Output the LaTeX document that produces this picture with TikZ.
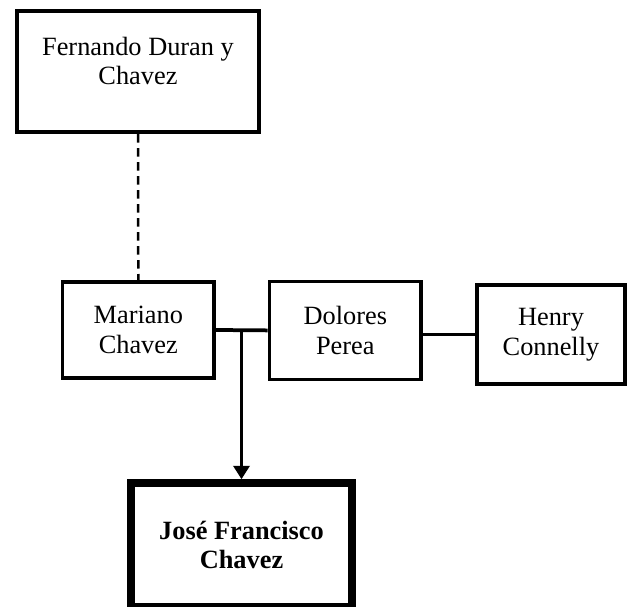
\documentclass[tikz,border=0pt]{standalone}
\usepackage{fontspec}
\setmainfont{Liberation Serif}
\usetikzlibrary{arrows.meta}

\begin{document}
\begin{tikzpicture}[x=0.02cm,y=-0.02cm,
  pbox/.style={rectangle,draw,line width=0.075cm,align=center,inner sep=0pt,
               font=\fontsize{15}{17}\selectfont},
  link/.style={line width=0.075cm},
  arrow/.style={-{Triangle[length=0.27cm,width=0.32cm]},line width=0.07cm}]
\useasboundingbox (0,0) rectangle (627,607);
\node[pbox,line width=0.08cm,minimum width=4.86cm,minimum height=2.43cm,text depth=0.42cm] (fern) at (138,71.3) {Fernando Duran y\\Chavez};
\node[pbox,minimum width=3.03cm,minimum height=1.93cm] (mar) at (138.3,330) {Mariano\\Chavez};
\node[pbox,minimum width=3.03cm,minimum height=1.96cm] (dol) at (345.3,330.4) {Dolores\\Perea};
\node[pbox,minimum width=2.96cm,minimum height=1.97cm] (hen) at (551,334.5) {Henry\\Connelly};
\node[pbox,line width=0.15cm,minimum width=4.42cm,minimum height=2.48cm,
      font=\fontsize{15}{17}\selectfont\bfseries] (jose) at (241.5,545) {José Francisco\\Chavez};
\draw[line width=0.05cm,dash pattern=on 0.17cm off 0.11cm] (fern.south) -- (mar.north);
\draw[link] (mar.east) -- (dol.west);
\draw[link] (hen.west) -- (hen.west -| dol.east);
\draw[arrow] (jose.north |- mar.east) -- (jose.north);
\end{tikzpicture}
\end{document}
